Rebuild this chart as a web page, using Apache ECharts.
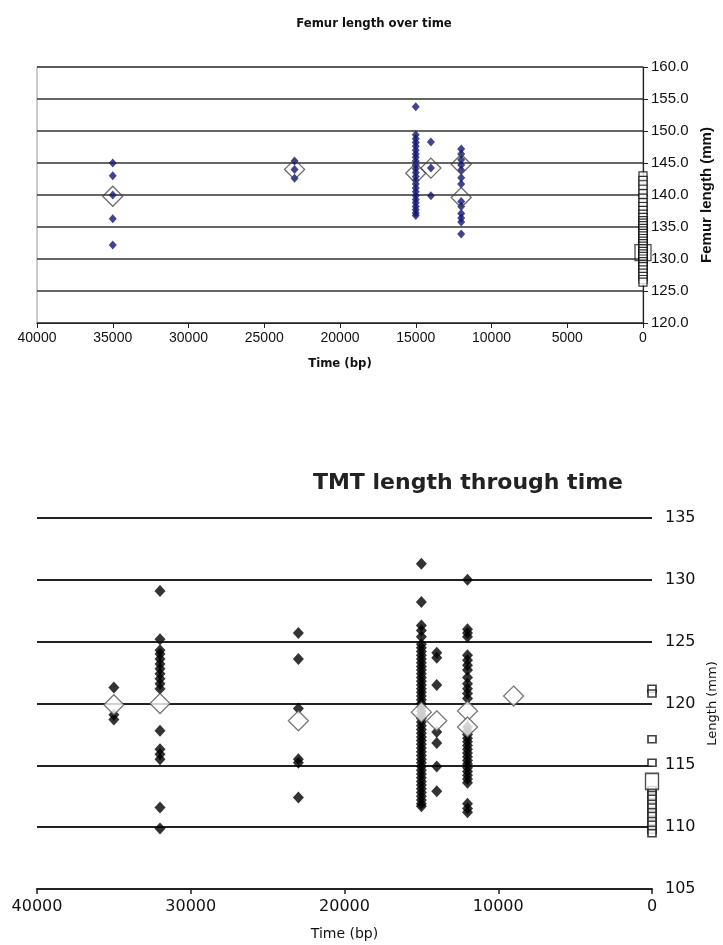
<!DOCTYPE html>
<html>
<head>
<meta charset="utf-8">
<script src="https://cdn.jsdelivr.net/npm/echarts@6/dist/echarts.min.js"></script>
<style>
  html, body { margin: 0; padding: 0; background: #fff; overflow: hidden; }
  #main { width: 723px; height: 945px; }
</style>
</head>
<body>
<div id="main"></div>
<script>
// ---- Femur length (top panel) ----
var femurAges = [35000, 23000, 15000, 14000, 12000];
var femurValues = [
    [145.0, 143.0, 140.0, 136.3, 132.2],
    [145.3, 144.0, 142.6],
    [153.8, 149.4, 148.8, 148.2, 147.6, 147.0, 146.4, 145.9, 145.3, 144.7, 144.1, 143.5,
     142.9, 142.3, 141.7, 141.1, 140.5, 139.9, 139.3, 138.8, 138.2, 137.7, 137.2, 136.8],
    [148.3, 144.2, 139.9],
    [147.2, 146.4, 145.5, 144.7, 143.9, 142.7, 141.7, 139.0, 138.2, 137.1, 136.4, 135.8, 133.9]
];
var femurMeanAges = [35000, 23000, 15000, 14000, 12000, 12000];
var femurMeans = [139.8, 144.0, 143.4, 144.2, 144.8, 139.6];
var femurModern = [143.0, 142.3, 141.6, 140.9, 140.2, 139.5, 138.8, 138.2, 137.6, 137.0, 136.5,
    136.0, 135.6, 135.2, 134.8, 134.4, 134.0, 133.6, 133.2, 132.8, 132.4, 132.0, 131.6, 131.2,
    130.8, 130.4, 130.0, 129.6, 129.2, 128.8, 128.3, 127.8, 127.3, 126.8, 126.4];
var femurModernMean = 131.0;

// ---- TMT length (bottom panel) ----
var tmtAges = [35000, 32000, 23000, 15000, 14000, 12000];
var tmtValues = [
    [121.3, 119.1, 118.7],
    [129.1, 125.2, 124.3, 124.0, 123.6, 123.2, 122.8, 122.4, 122.0, 121.6, 121.2, 117.8,
     116.3, 115.9, 115.5, 111.6, 109.9],
    [125.7, 123.6, 119.6, 115.5, 115.2, 112.4],
    [131.3, 128.2, 126.3, 125.9, 125.4, 124.8, 124.5, 124.2, 123.9, 123.6, 123.3, 123.0,
     122.7, 122.4, 122.1, 121.8, 121.5, 121.2, 120.9, 120.6, 120.3, 120.0, 119.7, 119.4,
     119.1, 118.8, 118.5, 118.2, 117.9, 117.6, 117.3, 117.0, 116.7, 116.4, 116.1, 115.8,
     115.5, 115.2, 114.9, 114.6, 114.3, 114.0, 113.7, 113.4, 113.1, 112.8, 112.5, 112.2,
     111.9, 111.7],
    [124.1, 123.7, 121.5, 117.7, 116.8, 114.9, 112.9],
    [130.0, 126.0, 125.7, 125.4, 123.9, 123.5, 123.1, 122.7, 122.1, 121.6, 121.2, 120.8,
     120.4, 118.1, 117.8, 117.5, 117.2, 116.9, 116.6, 116.3, 116.0, 115.7, 115.4, 115.1,
     114.8, 114.5, 114.2, 113.9, 113.6, 111.9, 111.5, 111.2]
];
var tmtMeanAges = [35000, 32000, 23000, 15000, 14000, 12000, 12000, 9000];
var tmtMeans = [119.9, 120.0, 118.6, 119.3, 118.6, 119.4, 118.1, 120.6];
var tmtModern = [121.2, 120.8, 117.1, 115.2, 113.0, 112.6, 112.3, 111.9, 111.6, 111.2,
    110.9, 110.5, 110.2, 109.8, 109.5];
var tmtModernMean = 113.7;

// 把 [年代, 数值] 组合起来
function pairs(ages, groups) {
    var out = [];
    for (var i = 0; i < ages.length; i++) {
        for (var j = 0; j < groups[i].length; j++) {
            out.push([ages[i], groups[i][j]]);
        }
    }
    return out;
}
function zip(ages, vals) {
    return vals.map(function (v, i) { return [ages[i], v]; });
}
function atZero(vals) {
    return vals.map(function (v) { return [0, v]; });
}
function plain(v) { return String(v); }   // 不要千位分隔符

var topFont = "'Liberation Sans', Arial, sans-serif";
var narrowFont = "'Liberation Sans Narrow', 'DejaVu Sans Condensed', Arial, sans-serif";
var macFont = "'DejaVu Sans', Verdana, sans-serif";

var myChart = echarts.init(document.getElementById('main'));

var option = {
    backgroundColor: '#fff',
    animation: false,
    title: [
        {
            text: 'Femur length over time',
            left: 369, top: 12, textAlign: 'center',
            textStyle: { fontFamily: narrowFont, fontSize: 13, fontWeight: 'bold', color: '#111' }
        },
        {
            text: 'TMT length through time',
            left: 463, top: 467, textAlign: 'center',
            textStyle: { fontFamily: macFont, fontSize: 22, fontWeight: 'bold', color: '#222' }
        }
    ],
    grid: [
        { left: 37, right: 80, top: 67, height: 256, show: true, borderColor: '#999', borderWidth: 1,
          outerBoundsMode: 'none' },
        { left: 37, right: 71, top: 518, height: 371, outerBoundsMode: 'none' }
    ],
    xAxis: [
        {
            gridIndex: 0, type: 'value', inverse: true, min: 0, max: 40000, interval: 5000,
            axisLine: { lineStyle: { color: '#222', width: 1.2 } },
            axisTick: { length: 5, lineStyle: { color: '#222' } },
            axisLabel: { fontFamily: topFont, fontSize: 14, color: '#111', margin: 8, formatter: plain },
            splitLine: { show: false },
            name: 'Time (bp)', nameLocation: 'middle', nameGap: 34,
            nameTextStyle: { fontFamily: narrowFont, fontSize: 13, fontWeight: 'bold', color: '#111' }
        },
        {
            gridIndex: 1, type: 'value', inverse: true, min: 0, max: 40000, interval: 10000,
            axisLine: { lineStyle: { color: '#222', width: 2 } },
            axisTick: { length: 5, lineStyle: { color: '#222', width: 1.5 } },
            axisLabel: { fontFamily: macFont, fontSize: 16, color: '#111', margin: 10, formatter: plain },
            splitLine: { show: false },
            name: 'Time (bp)', nameLocation: 'middle', nameGap: 38,
            nameTextStyle: { fontFamily: macFont, fontSize: 14, color: '#111' }
        }
    ],
    yAxis: [
        {
            gridIndex: 0, type: 'value', position: 'right', min: 120, max: 160, interval: 5,
            axisLine: { show: true, lineStyle: { color: '#222', width: 1.2 } },
            axisTick: { show: true, length: 5, lineStyle: { color: '#222' } },
            axisLabel: {
                fontFamily: topFont, fontSize: 15, color: '#111', margin: 8,
                formatter: function (v) { return v.toFixed(1); }
            },
            splitLine: { lineStyle: { color: '#333', width: 1.5 } },
            name: 'Femur length (mm)', nameLocation: 'middle', nameGap: 54, nameRotate: 90,
            nameTextStyle: { fontFamily: topFont, fontSize: 15, fontWeight: 'bold', color: '#111' }
        },
        {
            gridIndex: 1, type: 'value', position: 'right', min: 105, max: 135, interval: 5,
            axisLine: { show: false },
            axisTick: { show: false },
            axisLabel: { fontFamily: macFont, fontSize: 16, color: '#111', margin: 13 },
            splitLine: { lineStyle: { color: '#222', width: 2 } },
            name: 'Length (mm)', nameLocation: 'middle', nameGap: 54, nameRotate: 90,
            nameTextStyle: { fontFamily: macFont, fontSize: 13, color: '#111' }
        }
    ],
    series: [
        // 上图：个体（蓝色菱形）
        {
            type: 'scatter', xAxisIndex: 0, yAxisIndex: 0,
            symbol: 'diamond', symbolSize: [8, 9],
            itemStyle: { color: '#121672' },
            data: pairs(femurAges, femurValues)
        },
        // 上图：现代样本（小方框）
        {
            type: 'scatter', xAxisIndex: 0, yAxisIndex: 0,
            symbol: 'rect', symbolSize: 8,
            itemStyle: { color: '#fff', borderColor: '#000', borderWidth: 1.2 },
            data: atZero(femurModern)
        },
        // 上图：平均值（空心大菱形）
        {
            type: 'scatter', xAxisIndex: 0, yAxisIndex: 0,
            symbol: 'diamond', symbolSize: 20, z: 5,
            itemStyle: { color: 'rgba(0,0,0,0)', borderColor: '#444', borderWidth: 1.3 },
            data: zip(femurMeanAges, femurMeans)
        },
        {
            type: 'scatter', xAxisIndex: 0, yAxisIndex: 0,
            symbol: 'rect', symbolSize: 16, z: 5,
            itemStyle: { color: 'rgba(0,0,0,0)', borderColor: '#222', borderWidth: 1.3 },
            data: [[0, femurModernMean]]
        },
        // 下图：个体（黑色菱形）
        {
            type: 'scatter', xAxisIndex: 1, yAxisIndex: 1,
            symbol: 'diamond', symbolSize: [11, 12],
            itemStyle: { color: '#000' },
            data: pairs(tmtAges, tmtValues)
        },
        {
            type: 'scatter', xAxisIndex: 1, yAxisIndex: 1,
            symbol: 'rect', symbolSize: [8, 7],
            itemStyle: { color: '#fff', borderColor: '#111', borderWidth: 1.6 },
            data: atZero(tmtModern)
        },
        {
            type: 'scatter', xAxisIndex: 1, yAxisIndex: 1,
            symbol: 'diamond', symbolSize: 20, z: 5,
            itemStyle: { color: '#fff', borderColor: '#555', borderWidth: 1.3 },
            data: zip(tmtMeanAges, tmtMeans)
        },
        {
            type: 'scatter', xAxisIndex: 1, yAxisIndex: 1,
            symbol: 'rect', symbolSize: [13, 16], z: 5,
            itemStyle: { color: '#fff', borderColor: '#222', borderWidth: 1.5 },
            data: [[0, tmtModernMean]]
        }
    ]
};

myChart.setOption(option, true);
</script>
</body>
</html>
